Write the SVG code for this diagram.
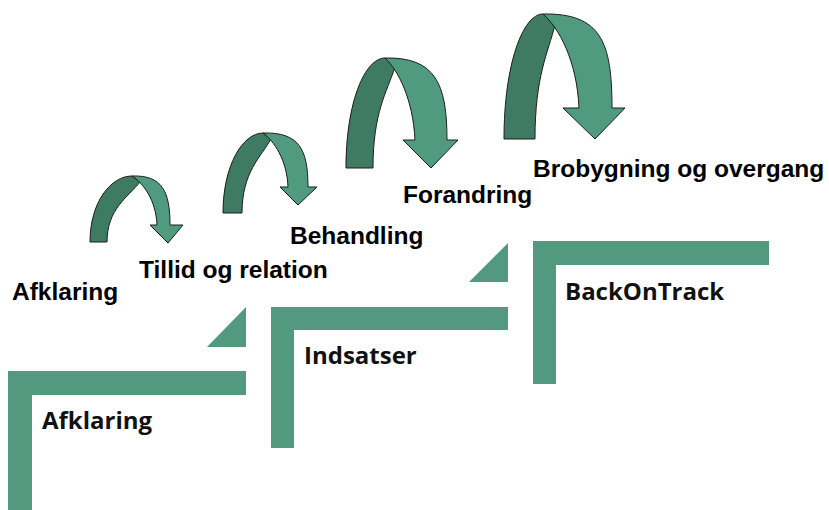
<svg xmlns="http://www.w3.org/2000/svg" width="829" height="510" viewBox="0 0 829 510">
<style>
.step{fill:#52997f;}
.dark{fill:#3f7a63;stroke:#1a1f1c;stroke-width:1;stroke-linejoin:round;}
.light{fill:#509a80;stroke:#1a1f1c;stroke-width:1;stroke-linejoin:round;}
.lbl{font-family:"Liberation Sans",Arial,sans-serif;font-weight:bold;font-size:24.5px;fill:#000;}
.stp{font-family:"Open Sans","Noto Sans",sans-serif;font-weight:bold;font-size:24px;fill:#111;}
</style>
<rect width="829" height="510" fill="#fff"/>

<g id="step1">
<path class="step" d="M8,371 H246 V395 H32 V510 H8 Z"/>
<path class="step" d="M207,347 L246,307 L246,347 Z"/>
<text class="stp" x="42" y="429">Afklaring</text>
</g>
<g id="step2">
<path class="step" d="M271,307 H508 V330 H294 V448 H271 Z"/>
<path class="step" d="M469,282 L508,243 L508,282 Z"/>
<text class="stp" x="304" y="364">Indsatser</text>
</g>
<g id="step3">
<path class="step" d="M533,241 H769 V265 H556 V384 H533 Z"/>
<text class="stp" x="565" y="300">BackOnTrack</text>
</g>

<g id="connectors">
<g id="arrow1">
<path class="dark" d="M90,242 C90,202 111,176 132,176 L140,182 C128,197 107,209 107,242 Z"/>
<path class="light" d="M132,176 C143,183 156,200 157,225 L150,225 L168,243 L183,225 L170,225 C170,191 162,175 132,176 Z"/>
</g>
<g id="arrow2">
<path class="dark" d="M223,213 C223,165 243,133 263,133 L271,139 C261,157 242,172 242,213 Z"/>
<path class="light" d="M263,133 C274,141 287,160 288,187 L280,187 L298,205 L317,187 L308,187 C308,149 299,132 263,133 Z"/>
</g>
<g id="arrow3">
<path class="dark" d="M346,168 C346,102 365,58 385,58 L395,67 C387,92 373,112 373,168 Z"/>
<path class="light" d="M385,58 C398,70 413,99 415,140 L403,140 L431,168 L458,140 L447,140 C447,83 435,57 385,58 Z"/>
</g>
<g id="arrow4">
<path class="dark" d="M504,139 C504,64 523,14 543,14 L555,25 C548,53 535,76 535,139 Z"/>
<path class="light" d="M543,14 C559,28 577,61 579,108 L563,108 L595,139 L625,108 L612,108 C612,42 601,13 543,14 Z"/>
</g>
</g>

<g id="labels">
<text class="lbl" x="12" y="300">Afklaring</text>
<text class="lbl" x="139" y="278">Tillid og relation</text>
<text class="lbl" x="290" y="244">Behandling</text>
<text class="lbl" x="403" y="203">Forandring</text>
<text class="lbl" x="533" y="177">Brobygning og overgang</text>
</g>
</svg>
